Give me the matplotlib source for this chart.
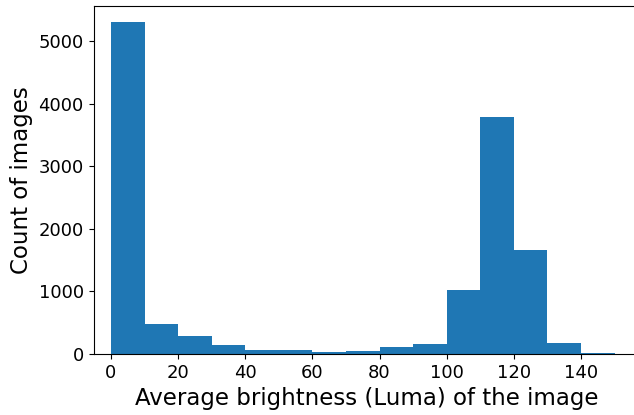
import matplotlib
matplotlib.use("Agg")
import matplotlib.pyplot as plt
import numpy as np

# bin edges (luma) and counts
bin_edges = np.arange(0, 160, 10)
counts = [5300, 480, 290, 145, 70, 70, 35, 50, 115, 165, 1020, 3785, 1660, 175, 8]

fig = plt.figure(figsize=(6.34, 4.15), dpi=100)
# axes run slightly past the right edge, as in the cropped original
ax = fig.add_axes([0.1475, 0.147, 0.8615, 0.8395])
ax.hist(bin_edges[:-1], bins=bin_edges, weights=counts, color="#1f77b4")
ax.set_xlim(-5.2, 157.5)
ax.set_ylim(0, 5565)
ax.spines["right"].set_visible(False)
ax.tick_params(labelsize=13)
ax.set_xlabel("Average brightness (Luma) of the image", fontsize=16.5)
ax.set_ylabel("Count of images", fontsize=16.5)
fig.savefig("out.png", dpi=100)
plt.close(fig)
